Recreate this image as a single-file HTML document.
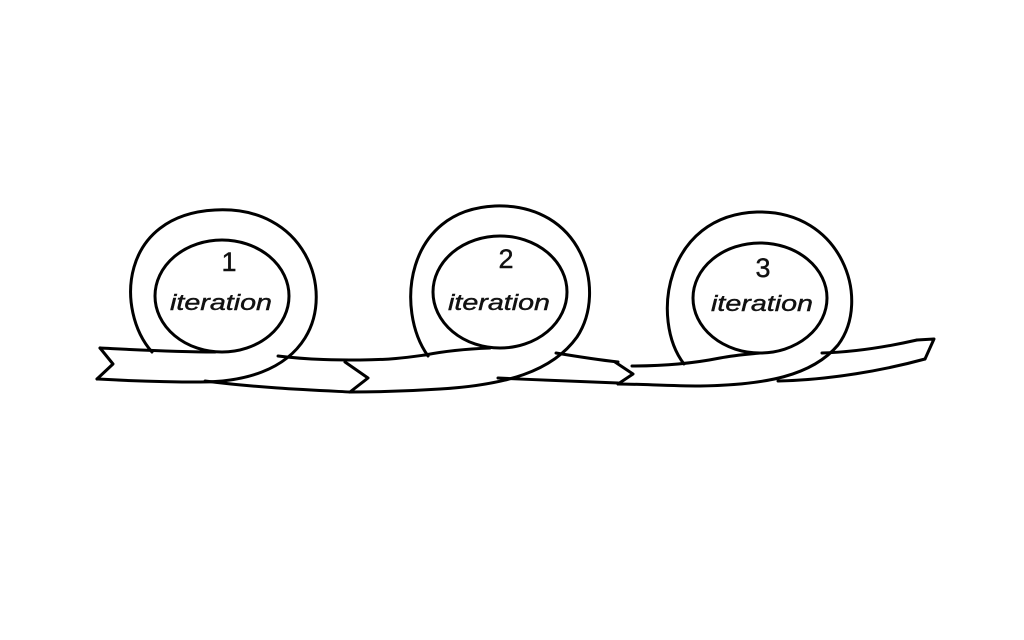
<!DOCTYPE html>
<html><head><style>html,body{margin:0;background:#fff}svg{display:block}</style></head>
<body>
<svg width="1024" height="640" viewBox="0 0 1024 640" xmlns="http://www.w3.org/2000/svg">
<g fill="none" stroke="#000" stroke-width="3" stroke-linecap="round" stroke-linejoin="round">
<path d="M100,348 L113,364 L97,379"/>
<path d="M100,348 C140,350 175,352 215,352"/>
<ellipse cx="222" cy="296" rx="67" ry="56"/>
<path d="M152,352 C115,310 120,215 215,210 C305,205 335,290 305,338 C285,370 245,382 200,382 C150,382 115,380 97,379"/>
<path d="M278,356 C310,360 340,360 360,360 C390,360 410,357 425,355 C445,351 465,349 490,348"/>
<path d="M205,381 C260,388 310,390 350,392"/>
<path d="M345,362 L368,378 L350,392"/>
<ellipse cx="500" cy="292" rx="67" ry="56"/>
<path d="M428,356 C395,310 405,210 495,206 C582,203 608,290 577,337 C552,372 505,385 440,389 C410,391 380,392 350,392"/>
<path d="M556,353 C580,357 600,360 618,362"/>
<path d="M498,378 C540,380 585,382 618,383"/>
<path d="M615,362 L633,374 L618,384"/>
<path d="M632,366 C660,366 690,364 720,358 C735,355 750,354 760,353"/>
<ellipse cx="760" cy="298" rx="67" ry="55"/>
<path d="M684,364 C650,320 665,215 757,212 C842,210 872,300 838,345 C812,376 765,385 700,386 C670,386 640,384 618,384"/>
<path d="M822,353 C860,352 895,345 917,340"/>
<path d="M778,381 C830,380 885,370 925,359"/>
<path d="M917,340 L934,339 L925,359"/>
</g>
<g font-family="'Liberation Sans', sans-serif" font-size="22" fill="#111" text-anchor="middle" stroke="#111" stroke-width="0.4">
<text x="229" y="271" font-size="27">1</text>
<text x="221" y="310" font-style="italic" textLength="102" lengthAdjust="spacingAndGlyphs">iteration</text>
<text x="506" y="268" font-size="27">2</text>
<text x="499" y="310" font-style="italic" textLength="102" lengthAdjust="spacingAndGlyphs">iteration</text>
<text x="763" y="277" font-size="27">3</text>
<text x="762" y="311" font-style="italic" textLength="102" lengthAdjust="spacingAndGlyphs">iteration</text>
</g>
</svg>
</body></html>
